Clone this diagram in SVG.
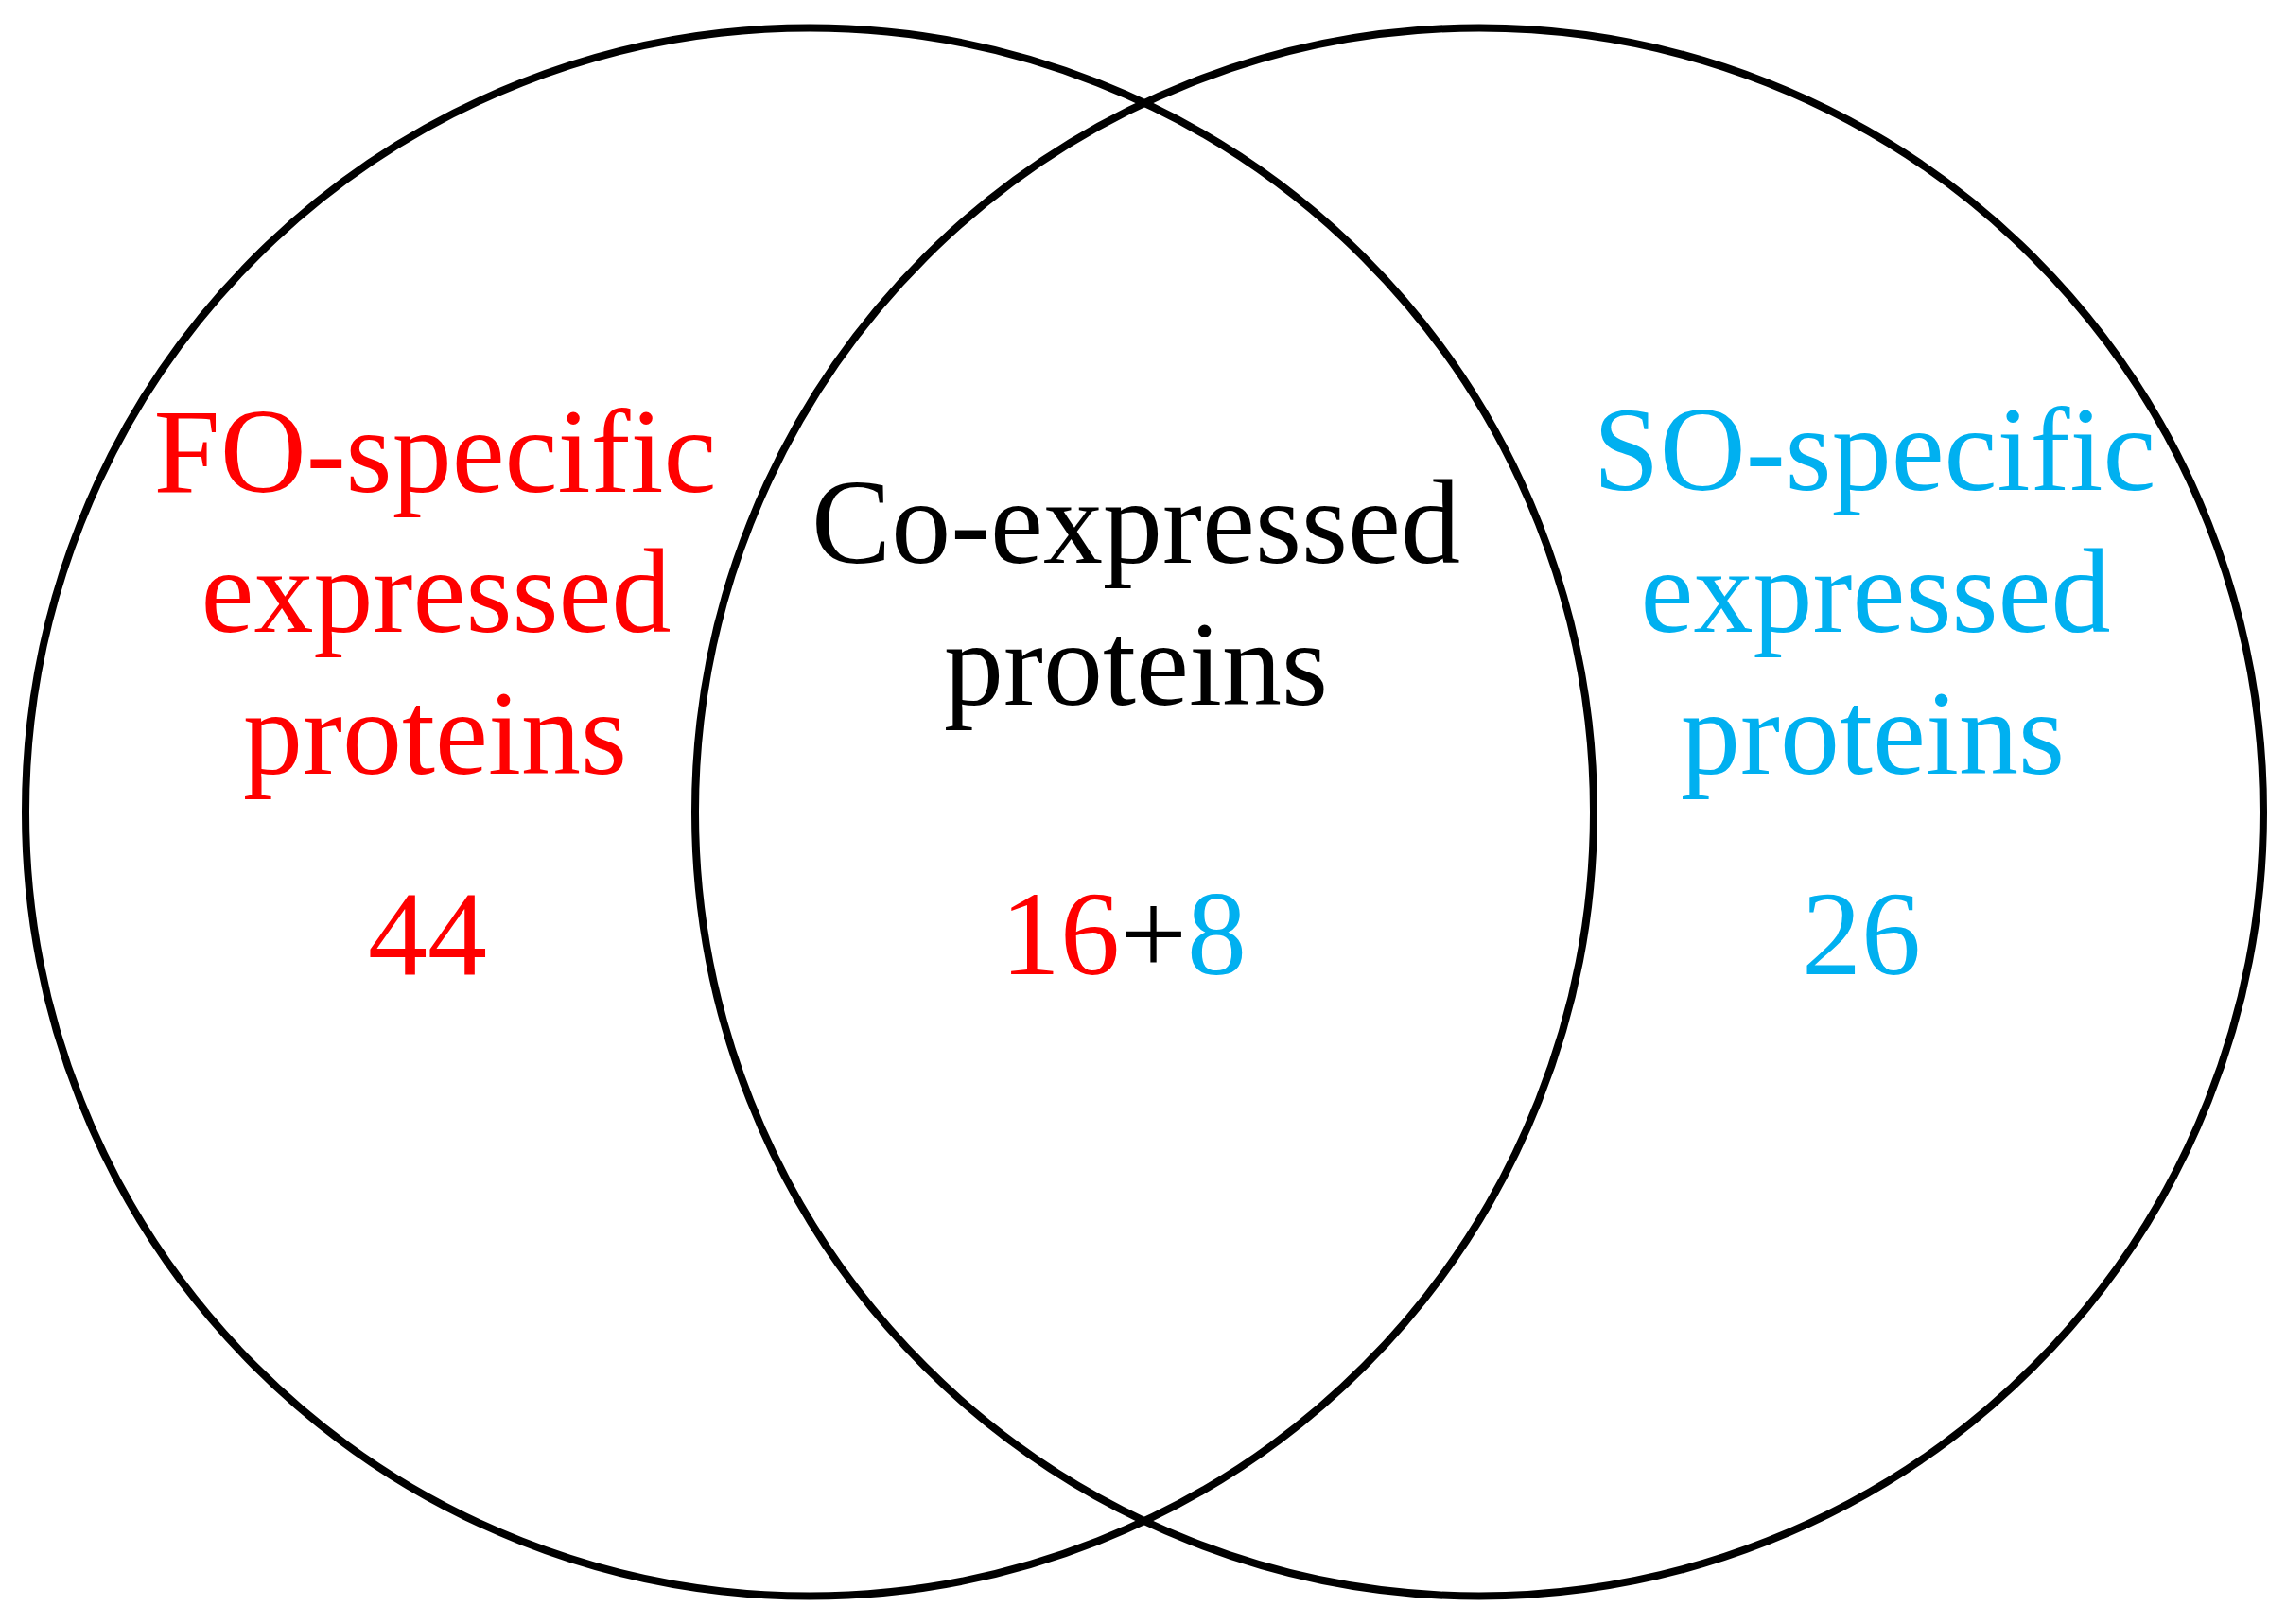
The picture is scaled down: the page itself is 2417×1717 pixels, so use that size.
<svg xmlns="http://www.w3.org/2000/svg" width="2417" height="1717" viewBox="0 0 2417 1717">
<style>
.ring{fill:none;stroke:#000;stroke-width:8}
.t{font-family:"Liberation Serif","Times New Roman",serif;font-size:126px;text-anchor:middle}
.red{fill:#FF0000}
.blue{fill:#00B0F0}
.blk{fill:#000}
</style>
<rect width="2417" height="1717" fill="#fff"/>
<g id="set-FO"><circle class="ring" cx="856" cy="858.5" r="829"/></g>
<g id="set-SO"><circle class="ring" cx="1564" cy="858.5" r="829"/></g>
<g id="label-FO">
<text class="t red" x="460" y="520">FO-specific</text>
<text class="t red" x="461" y="668">expressed</text>
<text class="t red" x="460" y="818">proteins</text>
<text class="t red" x="452" y="1030">44</text>
</g>
<g id="label-Co">
<text class="t blk" x="1201" y="595">Co-expressed</text>
<text class="t blk" x="1201" y="745">proteins</text>
<text class="t" x="1188" y="1030"><tspan class="red">16</tspan><tspan class="blk">+</tspan><tspan class="blue">8</tspan></text>
</g>
<g id="label-SO">
<text class="t blue" x="1982" y="518">SO-specific</text>
<text class="t blue" x="1983" y="668">expressed</text>
<text class="t blue" x="1980" y="818">proteins</text>
<text class="t blue" x="1968" y="1030">26</text>
</g>
<g id="connectors"></g>
</svg>
